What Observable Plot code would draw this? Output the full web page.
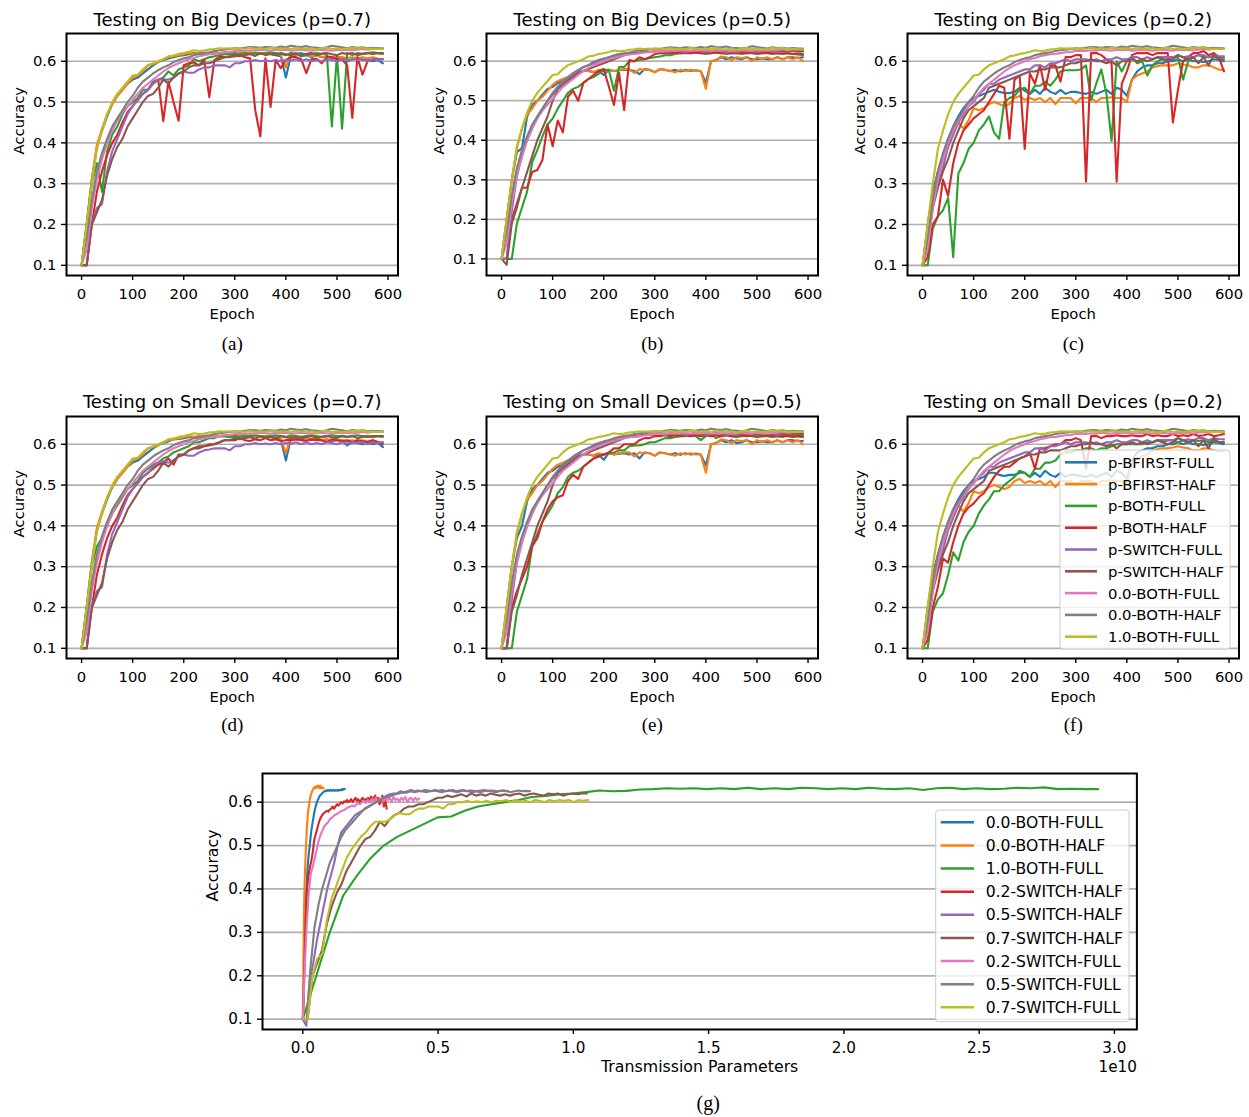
<!DOCTYPE html>
<html><head><meta charset="utf-8">
<script src="https://cdn.jsdelivr.net/npm/d3@7"></script>
<script src="https://cdn.jsdelivr.net/npm/@observablehq/plot@0.6"></script>
<style>
html,body{margin:0;padding:0;background:#fff;overflow:hidden;}
#fig{position:relative;width:1249px;height:1117px;overflow:hidden;background:#fff;font-family:"DejaVu Sans",sans-serif;}
</style></head>
<body><div id="fig"></div>
<script>
// ---------- tick labels / names ----------
const xTicks = [0,100,200,300,400,500,600];
const yTicks = [0.1,0.2,0.3,0.4,0.5,0.6];
const gxTicks = [0,0.5,1,1.5,2,2.5,3];
const epochStep = 10;
const seriesNames = ["p-BFIRST-FULL","p-BFIRST-HALF","p-BOTH-FULL","p-BOTH-HALF","p-SWITCH-FULL","p-SWITCH-HALF","0.0-BOTH-FULL","0.0-BOTH-HALF","1.0-BOTH-FULL"];
const gNames = ["0.0-BOTH-FULL","0.0-BOTH-HALF","1.0-BOTH-FULL","0.2-SWITCH-HALF","0.5-SWITCH-HALF","0.7-SWITCH-HALF","0.2-SWITCH-FULL","0.5-SWITCH-FULL","0.7-SWITCH-FULL"];
const gExtent = [0.155,0.0775,2.94,0.31,0.76,1.05,0.43,0.84,1.055]; // total transmission (x 1e10)
const titles = ["Testing on Big Devices (p=0.7)","Testing on Big Devices (p=0.5)","Testing on Big Devices (p=0.2)","Testing on Small Devices (p=0.7)","Testing on Small Devices (p=0.5)","Testing on Small Devices (p=0.2)"];
const captions = ["(a)","(b)","(c)","(d)","(e)","(f)","(g)"];
const colors = ["#1f77b4","#ff7f0e","#2ca02c","#d62728","#9467bd","#8c564b","#e377c2","#7f7f7f","#bcbd22"];

// ---------- shared baselines (accuracy every 10 epochs) ----------
const pinkBase = [.1,.14,.24,.31,.36,.4,.43,.455,.475,.49,
 .505,.52,.535,.545,.555,.565,.575,.583,.59,.595,
 .6,.605,.608,.612,.615,.617,.618,.62,.622,.623,
 .625,.626,.625,.627,.626,.628,.627,.626,.628,.627,
 .628,.626,.627,.628,.627,.626,.627,.628,.627,.626,
 .628,.627,.628,.627,.628,.63,.628,.63,.631,.63];
const grayBase = [.1,.17,.26,.33,.375,.41,.44,.46,.48,.5,
 .515,.535,.55,.56,.57,.578,.585,.59,.598,.603,
 .607,.61,.615,.618,.62,.622,.625,.627,.628,.63,
 .632,.631,.633,.635,.634,.633,.635,.634,.633,.636,
 .634,.638,.636,.635,.637,.634,.633,.632,.634,.638,
 .636,.634,.632,.635,.633,.634,.632,.633,.632,.632];
const yellowBase = [.1,.2,.3,.385,.43,.47,.5,.52,.535,.55,
 .565,.567,.58,.59,.595,.6,.605,.612,.614,.618,
 .62,.623,.627,.625,.626,.629,.63,.632,.631,.632,
 .63,.632,.63,.633,.63,.632,.63,.633,.632,.63,
 .632,.63,.633,.631,.63,.632,.628,.632,.633,.63,
 .632,.63,.631,.633,.632,.634,.63,.631,.63,.63];

// ---------- (a) big, p=0.7 ----------
const a_bfFull = [.1,.2,.31,.39,.43,.465,.495,.515,.53,.545,
 .555,.56,.57,.58,.59,.598,.603,.607,.61,.613,
 .615,.617,.62,.618,.62,.618,.622,.62,.62,.618,
 .62,.618,.62,.617,.62,.618,.62,.618,.615,.612,
 .56,.615,.62,.612,.615,.61,.615,.61,.612,.608,
 .61,.61,.6,.605,.608,.603,.605,.6,.603,.595];
const a_bfHalf = [.1,.2,.31,.395,.435,.47,.495,.515,.53,.545,
 .56,.565,.575,.59,.593,.598,.605,.61,.612,.615,
 .617,.62,.618,.62,.618,.62,.622,.62,.622,.62,
 .618,.62,.62,.622,.62,.618,.62,.618,.62,.615,
 .585,.62,.615,.618,.615,.612,.615,.61,.612,.61,
 .61,.61,.608,.61,.608,.61,.607,.61,.606,.605];
const a_bothFull = [.1,.2,.3,.35,.28,.38,.42,.44,.47,.49,
 .5,.51,.53,.53,.55,.555,.56,.575,.565,.58,
 .585,.59,.605,.6,.605,.61,.612,.615,.617,.617,
 .618,.617,.62,.618,.62,.618,.62,.622,.62,.618,
 .615,.62,.618,.62,.615,.618,.62,.618,.62,.44,
 .615,.435,.62,.615,.62,.618,.62,.622,.62,.618];
const a_bothHalf = [.1,.1,.2,.28,.33,.37,.4,.42,.45,.475,
 .49,.505,.52,.53,.545,.555,.453,.55,.5,.454,
 .59,.595,.597,.59,.603,.512,.603,.611,.61,.612,
 .612,.615,.61,.607,.48,.416,.607,.488,.603,.583,
 .603,.61,.61,.605,.571,.605,.606,.595,.61,.61,
 .605,.605,.59,.461,.61,.567,.6,.605,.605,.605];
const a_swFull = [.1,.1,.2,.24,.25,.33,.38,.41,.44,.47,
 .49,.505,.52,.53,.545,.555,.555,.555,.56,.57,
 .575,.572,.572,.58,.585,.585,.59,.59,.59,.585,
 .595,.595,.6,.6,.603,.6,.602,.6,.603,.6,
 .603,.602,.605,.6,.605,.6,.603,.6,.605,.603,
 .6,.605,.602,.605,.603,.605,.6,.605,.603,.605];
const a_swHalf = [.1,.1,.2,.23,.26,.32,.36,.39,.41,.44,
 .46,.48,.5,.515,.52,.535,.555,.545,.56,.57,
 .575,.585,.59,.59,.595,.595,.6,.605,.61,.61,
 .615,.612,.615,.618,.613,.62,.615,.618,.615,.62,
 .617,.615,.618,.615,.618,.62,.615,.618,.62,.617,
 .615,.62,.618,.62,.615,.618,.62,.618,.62,.62];

// ---------- (b) big, p=0.5 ----------
const b_bfFull = [.1,.2,.3,.37,.38,.46,.49,.5,.515,.53,
 .535,.545,.55,.56,.565,.57,.575,.575,.572,.575,
 .565,.578,.575,.577,.578,.578,.575,.567,.58,.578,
 .572,.58,.578,.575,.578,.574,.578,.575,.577,.575,
 .545,.6,.603,.61,.605,.61,.607,.605,.61,.605,
 .605,.607,.605,.605,.61,.605,.61,.61,.608,.61];
const b_bfHalf = [.1,.2,.3,.38,.43,.465,.48,.5,.51,.525,
 .54,.55,.555,.56,.565,.57,.575,.575,.573,.578,
 .575,.578,.575,.578,.58,.58,.57,.58,.578,.578,
 .572,.58,.578,.575,.572,.578,.575,.578,.575,.575,
 .53,.6,.602,.612,.61,.602,.61,.608,.61,.6,
 .61,.605,.61,.605,.61,.605,.61,.605,.61,.6];
const b_bothFull = [.1,.1,.1,.19,.23,.27,.345,.375,.41,.44,
 .455,.48,.5,.52,.53,.535,.545,.555,.56,.568,
 .578,.578,.525,.585,.585,.6,.6,.603,.605,.608,
 .61,.612,.615,.615,.618,.62,.62,.62,.622,.62,
 .618,.62,.622,.62,.618,.62,.62,.618,.62,.62,
 .618,.62,.62,.618,.62,.618,.62,.618,.617,.615];
const b_bothHalf = [.1,.1,.2,.24,.28,.28,.32,.325,.35,.44,
 .385,.45,.42,.51,.525,.5,.545,.555,.565,.575,
 .58,.536,.489,.57,.476,.603,.6,.61,.605,.61,
 .618,.62,.62,.62,.622,.62,.622,.62,.622,.62,
 .622,.62,.622,.62,.622,.62,.62,.622,.62,.622,
 .62,.62,.622,.62,.62,.62,.62,.618,.62,.618];
const b_swFull = [.1,.1,.22,.31,.36,.4,.43,.46,.48,.5,
 .52,.535,.545,.555,.565,.575,.585,.59,.595,.6,
 .605,.61,.612,.615,.618,.62,.622,.622,.625,.623,
 .625,.625,.623,.625,.627,.625,.623,.625,.627,.625,
 .623,.625,.627,.625,.622,.625,.623,.625,.627,.625,
 .623,.625,.627,.625,.623,.625,.627,.625,.626,.625];
const b_swHalf = [.1,.085,.19,.23,.28,.32,.36,.4,.43,.46,
 .5,.53,.54,.55,.56,.57,.575,.58,.585,.59,
 .595,.6,.605,.61,.615,.618,.62,.62,.625,.623,
 .625,.628,.625,.627,.625,.628,.627,.625,.628,.626,
 .628,.625,.627,.628,.625,.627,.628,.625,.627,.626,
 .625,.627,.628,.625,.627,.626,.625,.627,.626,.625];

// ---------- (c) big, p=0.2 ----------
const c_bfFull = [.1,.2,.28,.33,.37,.41,.44,.465,.485,.5,
 .51,.515,.52,.525,.53,.525,.522,.522,.525,.535,
 .528,.52,.53,.52,.535,.525,.52,.53,.52,.525,
 .525,.522,.52,.525,.52,.525,.53,.52,.535,.53,
 .515,.555,.575,.585,.59,.59,.595,.595,.6,.6,
 .605,.6,.605,.6,.6,.598,.6,.605,.603,.6];
const c_bfHalf = [.1,.19,.27,.32,.36,.39,.42,.45,.435,.455,
 .485,.48,.485,.495,.5,.495,.49,.495,.51,.515,
 .505,.51,.505,.51,.5,.51,.495,.51,.51,.51,
 .497,.51,.51,.51,.5,.51,.51,.512,.51,.51,
 .5,.555,.565,.57,.575,.585,.588,.59,.59,.59,
 .595,.592,.59,.585,.585,.59,.59,.585,.58,.578];
const c_bothFull = [.1,.1,.19,.22,.235,.265,.12,.325,.35,.385,
 .4,.43,.445,.465,.425,.41,.5,.51,.515,.53,
 .535,.52,.54,.54,.55,.54,.555,.575,.578,.578,
 .578,.58,.59,.505,.545,.58,.52,.405,.6,.575,
 .6,.61,.595,.6,.565,.59,.6,.605,.605,.61,
 .61,.555,.6,.61,.615,.61,.61,.612,.61,.61];
const c_bothHalf = [.1,.12,.2,.22,.31,.27,.35,.4,.43,.445,
 .46,.47,.48,.5,.52,.54,.535,.41,.555,.565,
 .385,.57,.545,.59,.53,.59,.59,.55,.61,.61,
 .615,.615,.305,.62,.62,.615,.605,.595,.305,.545,
 .575,.615,.62,.62,.62,.615,.62,.62,.62,.45,
 .53,.6,.61,.62,.62,.625,.615,.62,.61,.575];
const c_swFull = [.1,.15,.25,.3,.34,.39,.42,.45,.47,.49,
 .5,.52,.53,.545,.545,.555,.56,.565,.57,.575,
 .58,.58,.59,.59,.585,.595,.595,.6,.605,.6,
 .605,.605,.605,.6,.605,.6,.605,.605,.61,.605,
 .605,.61,.61,.605,.61,.605,.61,.61,.61,.61,
 .615,.61,.612,.61,.615,.615,.61,.615,.613,.612];
const c_swHalf = [.1,.15,.24,.29,.33,.36,.4,.43,.46,.48,
 .49,.5,.51,.535,.54,.545,.55,.555,.56,.565,
 .57,.575,.575,.58,.58,.585,.585,.585,.59,.595,
 .595,.6,.6,.605,.6,.6,.595,.6,.59,.6,
 .6,.605,.6,.605,.6,.605,.61,.605,.6,.605,
 .615,.61,.605,.61,.595,.61,.59,.615,.605,.605];

// ---------- (d) small, p=0.7 ----------
const d_bfFull = [.1,.2,.31,.39,.43,.465,.495,.515,.53,.545,
 .555,.56,.57,.58,.59,.598,.603,.607,.612,.613,
 .615,.617,.618,.615,.62,.618,.62,.62,.62,.618,
 .62,.618,.62,.617,.62,.618,.62,.618,.615,.612,
 .56,.615,.62,.612,.615,.61,.615,.61,.612,.608,
 .61,.61,.597,.605,.603,.6,.605,.6,.603,.593];
const d_bfHalf = [.1,.2,.31,.395,.435,.47,.495,.515,.53,.545,
 .56,.565,.575,.59,.593,.598,.605,.61,.612,.615,
 .617,.62,.618,.62,.618,.62,.622,.62,.622,.62,
 .618,.62,.62,.622,.62,.618,.62,.618,.62,.615,
 .578,.62,.615,.618,.615,.612,.615,.61,.612,.61,
 .61,.61,.608,.61,.608,.61,.607,.61,.606,.605];
const d_bothFull = [.1,.2,.3,.35,.37,.4,.43,.45,.47,.49,
 .5,.51,.53,.54,.55,.555,.565,.57,.58,.585,
 .59,.595,.605,.605,.61,.615,.615,.62,.62,.618,
 .62,.618,.62,.62,.622,.62,.618,.62,.622,.62,
 .618,.622,.62,.618,.62,.622,.62,.618,.62,.622,
 .62,.62,.618,.62,.622,.62,.618,.62,.62,.618];
const d_bothHalf = [.1,.1,.2,.28,.33,.37,.4,.42,.45,.475,
 .49,.505,.52,.53,.54,.55,.555,.565,.55,.575,
 .575,.585,.59,.595,.595,.6,.6,.605,.61,.61,
 .61,.615,.61,.608,.612,.61,.615,.61,.612,.608,
 .61,.61,.612,.61,.608,.612,.61,.61,.605,.612,
 .61,.608,.61,.605,.61,.608,.605,.61,.605,.6];
const d_swFull = [.1,.1,.2,.24,.25,.33,.38,.41,.44,.47,
 .49,.505,.52,.53,.545,.555,.558,.555,.56,.57,
 .575,.572,.572,.58,.585,.587,.59,.59,.59,.585,
 .595,.595,.6,.6,.603,.6,.602,.6,.603,.6,
 .603,.602,.605,.6,.605,.6,.603,.6,.605,.603,
 .6,.605,.602,.605,.603,.605,.6,.605,.603,.605];
const d_swHalf = [.1,.1,.2,.23,.26,.32,.36,.39,.41,.44,
 .46,.48,.5,.515,.52,.535,.555,.545,.56,.57,
 .575,.585,.59,.59,.595,.597,.6,.605,.61,.61,
 .615,.612,.615,.618,.613,.62,.615,.618,.615,.62,
 .617,.615,.618,.615,.618,.62,.615,.618,.62,.617,
 .615,.62,.618,.62,.615,.618,.62,.618,.62,.62];

// ---------- (e) small, p=0.5 ----------
const e_bfFull = [.1,.2,.3,.37,.4,.46,.49,.5,.515,.53,
 .535,.545,.55,.56,.565,.57,.575,.575,.572,.575,
 .562,.578,.575,.577,.578,.575,.578,.565,.58,.578,
 .572,.58,.578,.575,.578,.574,.578,.575,.577,.575,
 .548,.6,.603,.61,.605,.61,.603,.605,.61,.605,
 .605,.607,.605,.605,.61,.605,.61,.61,.608,.608];
const e_bfHalf = [.1,.2,.3,.38,.43,.465,.48,.5,.51,.525,
 .54,.55,.555,.56,.565,.57,.575,.575,.573,.578,
 .575,.578,.575,.578,.58,.58,.57,.58,.578,.578,
 .572,.58,.578,.575,.572,.578,.575,.578,.575,.575,
 .53,.6,.602,.612,.61,.602,.61,.608,.61,.6,
 .61,.605,.61,.605,.61,.605,.61,.605,.61,.6];
const e_bothFull = [.1,.1,.1,.19,.23,.27,.35,.38,.41,.43,
 .45,.48,.495,.52,.53,.535,.545,.555,.565,.57,
 .575,.578,.58,.585,.585,.595,.597,.597,.6,.605,
 .605,.61,.615,.615,.618,.62,.62,.622,.62,.61,
 .62,.625,.615,.62,.622,.62,.618,.62,.622,.62,
 .618,.62,.62,.618,.62,.618,.622,.62,.62,.62];
const e_bothHalf = [.1,.1,.2,.24,.27,.3,.35,.37,.41,.44,
 .46,.47,.475,.51,.525,.515,.545,.555,.565,.57,
 .575,.58,.59,.59,.6,.6,.6,.61,.615,.615,
 .62,.62,.622,.62,.622,.62,.622,.62,.622,.62,
 .622,.62,.622,.62,.622,.62,.62,.622,.62,.622,
 .62,.62,.622,.62,.62,.62,.62,.618,.62,.618];
const e_swFull = [.1,.1,.22,.31,.36,.4,.43,.46,.48,.5,
 .52,.535,.545,.555,.565,.575,.585,.59,.595,.6,
 .605,.61,.612,.615,.618,.62,.622,.622,.625,.623,
 .625,.625,.623,.625,.627,.625,.623,.625,.627,.625,
 .623,.625,.627,.625,.622,.625,.623,.625,.627,.625,
 .623,.625,.627,.625,.623,.625,.627,.625,.626,.625];
const e_swHalf = [.1,.1,.19,.23,.28,.32,.36,.4,.43,.46,
 .5,.53,.54,.55,.56,.57,.575,.58,.585,.59,
 .595,.6,.605,.61,.615,.618,.62,.62,.625,.623,
 .625,.628,.625,.627,.625,.628,.627,.625,.628,.626,
 .628,.625,.627,.628,.625,.627,.628,.625,.627,.626,
 .625,.627,.628,.625,.627,.626,.625,.627,.626,.625];

// ---------- (f) small, p=0.2 ----------
const f_bfFull = [.1,.2,.28,.33,.37,.41,.44,.465,.485,.5,
 .51,.515,.52,.53,.53,.525,.522,.525,.525,.53,
 .53,.52,.53,.52,.535,.525,.52,.53,.52,.525,
 .525,.522,.52,.525,.52,.525,.53,.52,.535,.53,
 .515,.56,.58,.585,.59,.59,.595,.595,.6,.6,
 .605,.6,.605,.6,.6,.598,.6,.605,.603,.6];
const f_bfHalf = [.1,.19,.27,.32,.36,.39,.42,.45,.435,.455,
 .485,.48,.485,.495,.5,.495,.49,.495,.51,.515,
 .505,.51,.505,.51,.5,.51,.495,.51,.51,.51,
 .497,.51,.51,.51,.5,.51,.51,.512,.51,.51,
 .5,.555,.565,.57,.575,.585,.588,.59,.59,.592,
 .595,.592,.59,.585,.585,.59,.59,.585,.582,.583];
const f_bothFull = [.1,.1,.19,.22,.235,.28,.335,.315,.36,.385,
 .4,.43,.45,.465,.485,.485,.5,.51,.52,.535,
 .53,.52,.54,.54,.555,.555,.56,.575,.58,.58,
 .585,.585,.59,.59,.585,.59,.59,.595,.6,.6,
 .6,.6,.6,.6,.605,.605,.61,.605,.61,.61,
 .605,.61,.605,.61,.608,.61,.605,.61,.605,.605];
const f_bothHalf = [.1,.12,.2,.25,.32,.31,.36,.4,.43,.445,
 .455,.47,.48,.5,.52,.535,.545,.545,.555,.565,
 .57,.58,.54,.59,.59,.595,.6,.6,.61,.61,
 .615,.61,.54,.62,.62,.615,.62,.62,.622,.62,
 .62,.622,.62,.62,.625,.62,.622,.62,.62,.625,
 .62,.622,.62,.625,.62,.622,.625,.62,.622,.625];
const f_swFull = [.1,.15,.25,.3,.34,.39,.42,.45,.47,.49,
 .505,.52,.53,.545,.545,.555,.56,.565,.57,.575,
 .58,.58,.59,.59,.585,.595,.595,.6,.605,.6,
 .605,.605,.605,.6,.605,.6,.605,.605,.61,.605,
 .605,.61,.61,.605,.61,.605,.61,.61,.61,.61,
 .615,.61,.612,.61,.615,.615,.61,.615,.613,.612];
const f_swHalf = [.1,.15,.24,.29,.33,.36,.4,.43,.46,.48,
 .49,.5,.51,.535,.54,.545,.55,.555,.56,.565,
 .57,.575,.575,.58,.58,.585,.585,.585,.59,.595,
 .595,.6,.6,.605,.6,.6,.595,.6,.59,.6,
 .6,.605,.6,.605,.6,.605,.61,.605,.6,.605,
 .615,.61,.605,.61,.595,.61,.59,.615,.605,.605];

// ---------- (g) dedicated series ----------
const g_sw02Half = [.1,.2,.33,.4,.43,.45,.465,.485,.513,.525,
 .537,.55,.56,.567,.572,.575,.578,.58,.578,.583,
 .585,.59,.585,.59,.595,.592,.596,.6,.597,.602,
 .6,.605,.6,.603,.607,.6,.605,.61,.603,.607,
 .6,.605,.61,.603,.607,.605,.61,.6,.613,.605,
 .61,.615,.6,.61,.595,.605,.615,.59,.605,.585];
const g_sw02Full = [.1,.22,.32,.39,.435,.45,.47,.49,.51,.525,
 .535,.545,.55,.555,.562,.565,.57,.572,.575,.578,
 .58,.582,.585,.588,.59,.592,.59,.594,.598,.595,
 .6,.603,.598,.605,.6,.607,.603,.61,.6,.605,
 .61,.602,.608,.605,.61,.6,.612,.605,.608,.602,
 .61,.605,.612,.6,.608,.61,.603,.61,.605,.608];

// ---------- panel → series ----------
const panelSeries = [
 [a_bfFull,a_bfHalf,a_bothFull,a_bothHalf,a_swFull,a_swHalf,pinkBase,grayBase,yellowBase],
 [b_bfFull,b_bfHalf,b_bothFull,b_bothHalf,b_swFull,b_swHalf,pinkBase,grayBase,yellowBase],
 [c_bfFull,c_bfHalf,c_bothFull,c_bothHalf,c_swFull,c_swHalf,pinkBase,grayBase,yellowBase],
 [d_bfFull,d_bfHalf,d_bothFull,d_bothHalf,d_swFull,d_swHalf,pinkBase,grayBase,yellowBase],
 [e_bfFull,e_bfHalf,e_bothFull,e_bothHalf,e_swFull,e_swHalf,pinkBase,grayBase,yellowBase],
 [f_bfFull,f_bfHalf,f_bothFull,f_bothHalf,f_swFull,f_swHalf,pinkBase,grayBase,yellowBase]
];
// (g): accuracy vs cumulative transmission
const gSeries = [pinkBase,grayBase,yellowBase,g_sw02Half,b_swHalf,a_swHalf,g_sw02Full,b_swFull,a_swFull];

// ---------- layout ----------
const fig = document.getElementById("fig");
const FS = 14.8;

function makePanel(o) {
  const ML = 64, MR = 12, MT = 36, MB = o.MB || 90;
  const marks = [Plot.ruleY(yTicks, {stroke: "#b0b0b0", strokeWidth: 1.7})];
  o.series.forEach((vals, k) => {
    const step = o.steps[k];
    const data = vals.map((v, i) => ({x: i * step, y: v}));
    marks.push(Plot.line(data, {x: "x", y: "y", stroke: colors[k], strokeWidth: 2.1}));
  });
  marks.push(Plot.frame({stroke: "black", strokeWidth: 2}));
  marks.push(Plot.axisX({ticks: o.xTicks, tickFormat: o.xFmt, tickSize: 5, tickPadding: 8, fontSize: o.fs, label: null, strokeWidth: 1.4}));
  marks.push(Plot.axisY({ticks: yTicks, tickFormat: d3.format(".1f"), tickSize: 5, tickPadding: 5, fontSize: o.fs, label: null, strokeWidth: 1.4}));
  if (o.title) marks.push(Plot.text([o.title], {text: d => d, frameAnchor: "top", dy: -o.titleGap, lineAnchor: "bottom", fontSize: 18}));
  marks.push(Plot.text([o.xlabel], {text: d => d, frameAnchor: "bottom", dy: 43, lineAnchor: "bottom", fontSize: o.lfs}));
  marks.push(Plot.text(["Accuracy"], {text: d => d, frameAnchor: "left", dx: -o.ylabGap, rotate: -90, lineAnchor: "bottom", fontSize: o.lfs}));
  marks.push(Plot.text([o.caption], {text: d => d, frameAnchor: "bottom", dx: o.capDx || 0, dy: o.capDy, lineAnchor: "bottom", fontSize: o.cfs, fontFamily: "'Liberation Serif', 'Times New Roman', serif"}));
  if (o.offsetText) marks.push(Plot.text([o.offsetText], {text: d => d, frameAnchor: "bottom-right", textAnchor: "end", dy: 43, lineAnchor: "bottom", fontSize: o.fs}));
  const svg = Plot.plot({
    width: ML + o.w + MR,
    height: MT + o.h + MB,
    marginLeft: ML, marginRight: MR, marginTop: MT, marginBottom: MB,
    x: {domain: o.xDomain, label: null},
    y: {domain: o.yDomain, label: null},
    style: {fontFamily: "'DejaVu Sans', sans-serif", fontSize: FS + "px", color: "black", background: "transparent", overflow: "visible"},
    marks
  });
  svg.style.position = "absolute";
  svg.style.left = (o.left - ML) + "px";
  svg.style.top = (o.top - MT) + "px";
  svg.style.maxWidth = "none";
  fig.appendChild(svg);
}

const lefts = [65.7, 486, 906.7];
const tops = [33.3, 415.5];
const epochSteps = Array(9).fill(epochStep);
for (let p = 0; p < 6; p++) {
  const row = Math.floor(p / 3), col = p % 3;
  makePanel({
    left: lefts[col], top: tops[row], w: 331.5, h: 242,
    xDomain: [-29.5, 619.5],
    yDomain: p === 1 ? [0.058, 0.670] : [0.075, 0.668],
    xTicks, xFmt: d3.format("d"),
    series: panelSeries[p], steps: epochSteps,
    title: titles[p], titleGap: row === 0 ? 8 : 9,
    xlabel: "Epoch", ylabGap: 42.5,
    caption: captions[p], capDy: row === 0 ? 74.5 : 72, cfs: 19,
    fs: FS, lfs: FS
  });
}
makePanel({
  left: 262.3, top: 773.3, w: 874.4, h: 256, MB: 86,
  xDomain: [-0.149, 3.083], yDomain: [0.0763, 0.666],
  xTicks: gxTicks, xFmt: d3.format(".1f"),
  series: gSeries, steps: gSeries.map((v, k) => gExtent[k] / (v.length - 1)),
  xlabel: "Transmission Parameters", ylabGap: 45,
  caption: captions[6], capDy: 80.5, capDx: 8.5, cfs: 20,
  fs: 15.2, lfs: 15.8, offsetText: "1e10"
});

// ---------- legends ----------
const ov = d3.select(fig).append("svg")
  .attr("width", 1249).attr("height", 1117)
  .style("position", "absolute").style("left", "0px").style("top", "0px")
  .style("pointer-events", "none");
function legend(b, names) {
  const g = ov.append("g");
  g.append("rect").attr("x", b.x).attr("y", b.y).attr("width", b.w).attr("height", b.h)
    .attr("rx", 3).attr("fill", "white").attr("fill-opacity", 0.8)
    .attr("stroke", "#cccccc").attr("stroke-width", 1);
  names.forEach((n, k) => {
    const yy = b.y0 + b.dy * k;
    g.append("line").attr("x1", b.hx0).attr("x2", b.hx1).attr("y1", yy).attr("y2", yy)
      .attr("stroke", colors[k]).attr("stroke-width", 2.6);
    g.append("text").attr("x", b.tx).attr("y", yy + 0.365 * b.fs)
      .attr("font-size", b.fs).attr("font-family", "'DejaVu Sans', sans-serif").attr("fill", "black").text(n);
  });
}
legend({x: 1060, y: 450, w: 170, h: 199, y0: 462.3, dy: 21.8, hx0: 1065, hx1: 1097, tx: 1108, fs: 14.8}, seriesNames);
legend({x: 935.7, y: 810, w: 193.3, h: 211.7, y0: 822.3, dy: 23.125, hx0: 940.7, hx1: 974, tx: 985.7, fs: 15.6}, gNames);
</script>
</body></html>
